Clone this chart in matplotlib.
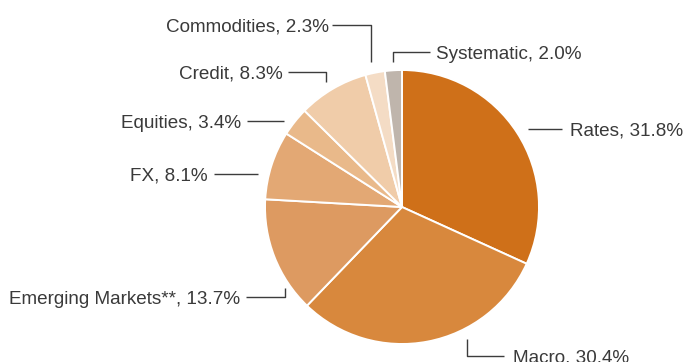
import matplotlib
matplotlib.use("Agg")
import matplotlib.pyplot as plt

# allocation by strategy, clockwise from 12 o'clock
categories = ["Rates", "Macro", "Emerging Markets**", "FX", "Equities",
              "Credit", "Commodities", "Systematic"]
shares = [31.8, 30.4, 13.7, 8.1, 3.4, 8.3, 2.3, 2.0]
colors = ["#CF7019", "#D8883D", "#DD9A61", "#E3A874", "#E9B98A",
          "#F0CCA9", "#F4DCC5", "#BFB5AC"]

W, H = 686, 362

# leader paths in pixel coords (y down), and where the label sits
leaders = {
    "Rates":              ([(528, 128.5), (562, 128.5)], (570, 128.5), "left"),
    "Macro":              ([(467, 339), (467, 355.5), (504, 355.5)], (513, 355.5), "right_of"),
    "Emerging Markets**": ([(284.5, 288), (284.5, 296.5), (246, 296.5)], (240, 296.5), "right"),
    "FX":                 ([(258, 173.5), (214, 173.5)], (208, 173.5), "right"),
    "Equities":           ([(284, 121), (247, 121)], (241, 121), "right"),
    "Credit":             ([(326, 81.5), (326, 71.8), (288, 71.8)], (283, 71.8), "right"),
    "Commodities":        ([(371, 62), (371, 25), (332, 25)], (329, 25), "right"),
    "Systematic":         ([(392.5, 61.5), (392.5, 52), (430, 52)], (436, 52), "left"),
}

fig = plt.figure(figsize=(W / 100, H / 100), dpi=100)
ax = fig.add_axes([0, 0, 1, 1])
ax.set_xlim(0, W)
ax.set_ylim(0, H)
ax.set_aspect("equal")
ax.axis("off")

ax.pie(shares, colors=colors, startangle=90, counterclock=False,
       center=(402, H - 207), radius=137, frame=True,
       wedgeprops=dict(edgecolor="white", linewidth=1.4))
ax.set_xlim(0, W)
ax.set_ylim(0, H)
ax.axis("off")

for name, val in zip(categories, shares):
    path, (tx, ty), side = leaders[name]
    xs = [p[0] for p in path]
    ys = [H - p[1] for p in path]
    ax.plot(xs, ys, color="#3c3c3c", lw=1.0, solid_capstyle="butt")
    ha = "right" if side == "right" else "left"
    ax.text(tx, H - ty - 0.5, f"{name}, {val:.1f}%", ha=ha, va="center_baseline",
            fontsize=13.6, color="#3a3a3a", family=["Liberation Sans", "DejaVu Sans"])

fig.savefig("out.png", dpi=100, facecolor="white")
